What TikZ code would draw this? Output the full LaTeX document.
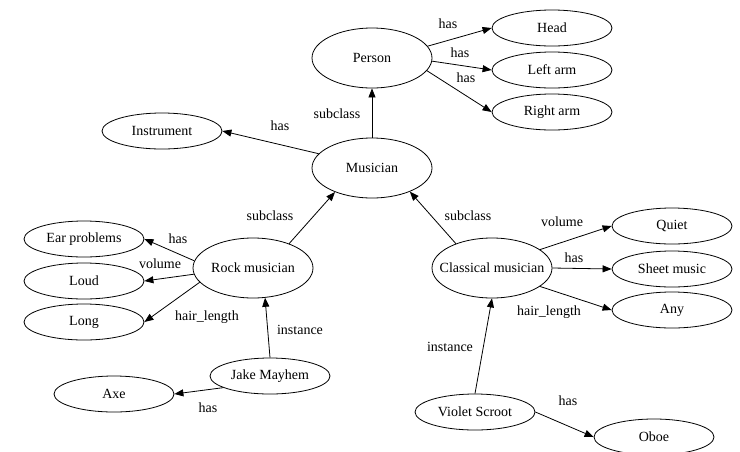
\documentclass[tikz,border=0pt]{standalone}
\usepackage{fontspec}
\setmainfont{Liberation Serif}
\usetikzlibrary{shapes.geometric,arrows.meta}
% zero-width box so the ellipse keeps its fixed size
\newcommand\entlabel[1]{\makebox[0pt]{#1}}
\begin{document}
\begin{tikzpicture}[x=1pt,y=-1pt,
  every node/.style={font=\fontsize{14}{16}\selectfont},
  ent/.style={ellipse,draw,line width=0.8pt,inner sep=0pt,minimum width=120pt,minimum height=36pt},
  big/.style={ent,minimum height=60pt},
  rel/.style={draw,line width=0.8pt,-{Triangle[length=9pt,width=7pt]}},
  lbl/.style={inner sep=0pt}]
\useasboundingbox (0,0) rectangle (740,451);
\clip (0,0) rectangle (740,451);

% entities
\node[big] (person)    at (372,58)  {\entlabel{Person}};
\node[ent] (head)      at (552,28)  {\entlabel{Head}};
\node[ent] (larm)      at (552,70)  {\entlabel{Left arm}};
\node[ent] (rarm)      at (552,112) {\entlabel{Right arm}};
\node[big] (musician)  at (372,168) {\entlabel{Musician}};
\node[ent] (instr)     at (162,131) {\entlabel{Instrument}};
\node[big] (rock)      at (253,268) {\entlabel{Rock musician}};
\node[ent] (ear)       at (84,239)  {\entlabel{Ear problems}};
\node[ent] (loud)      at (84,281)  {\entlabel{Loud}};
\node[ent] (long)      at (84,322)  {\entlabel{Long}};
\node[ent] (jake)      at (270,376) {\entlabel{Jake Mayhem}};
\node[ent] (axe)       at (114,394) {\entlabel{Axe}};
\node[big] (classical) at (492,268) {\entlabel{Classical musician}};
\node[ent] (quiet)     at (672,226) {\entlabel{Quiet}};
\node[ent] (sheet)     at (672,269) {\entlabel{Sheet music}};
\node[ent] (any)       at (672,310) {\entlabel{Any}};
\node[ent] (violet)    at (475,412) {\entlabel{Violet Scroot}};
\node[ent] (oboe)      at (654,437) {\entlabel{Oboe}};

% relations
\draw[rel] (musician.north) -- (person.south);
\draw[rel] (person.12) -- (head.west);
\draw[rel] (person.-3) -- (larm.west);
\draw[rel] (person.-13) -- (rarm.west);
\draw[rel] (musician.165) -- (instr.east);
\draw[rel] (rock.34) -- (musician.213);
\draw[rel] (rock.173) -- (ear.east);
\draw[rel] (rock.186) -- (loud.east);
\draw[rel] (rock.195) -- (long.east);
\draw[rel] (jake.north) -- (rock.292);
\draw[rel] (jake.194) -- (axe.east);
\draw[rel] (classical.146) -- (musician.-32);
\draw[rel] (classical.21) -- (quiet.west);
\draw[rel] (classical.east) -- (sheet.west);
\draw[rel] (classical.-21) -- (any.west);
\draw[rel] (violet.north) -- (classical.south);
\draw[rel] (violet.east) -- (oboe.west);

% relation labels
\node[lbl] (l1)  at (337,114) {subclass};
\node[lbl] (l2)  at (448,24)  {has};
\node[lbl] (l3)  at (460,53)  {has};
\node[lbl] (l4)  at (466,78)  {has};
\node[lbl] (l5)  at (280,126) {has};
\node[lbl] (l6)  at (270,216) {subclass};
\node[lbl] (l7)  at (178,239) {has};
\node[lbl] (l8)  at (160,264) {volume};
\node[lbl] (l9)  at (207,317) {hair\_length};
\node[lbl] (l10) at (300,330) {instance};
\node[lbl] (l11) at (208,408) {has};
\node[lbl] (l12) at (468,216) {subclass};
\node[lbl] (l13) at (562,222) {volume};
\node[lbl] (l14) at (574,258) {has};
\node[lbl] (l15) at (549,312) {hair\_length};
\node[lbl] (l16) at (450,347) {instance};
\node[lbl] (l17) at (568,401) {has};
\end{tikzpicture}
\end{document}
